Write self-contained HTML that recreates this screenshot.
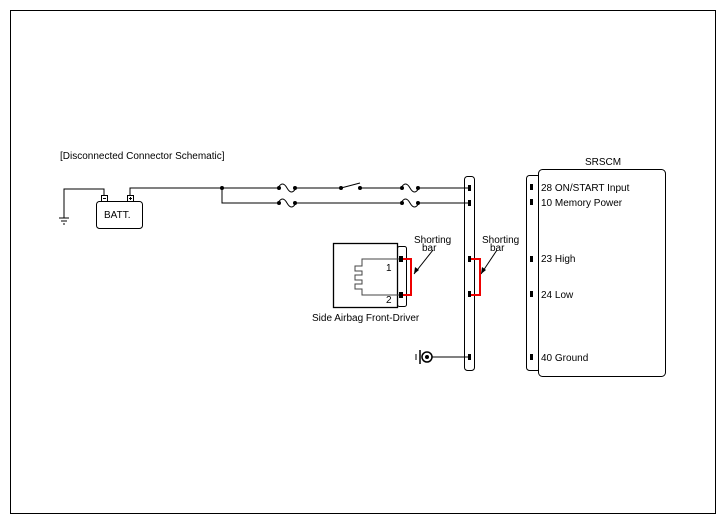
<!DOCTYPE html>
<html><head><meta charset="utf-8"><style>body{margin:0;background:#fff}svg{display:block}text{font-family:"Liberation Sans",sans-serif;font-size:10px;fill:#000}</style></head><body>
<svg width="726" height="525" viewBox="0 0 726 525">
<rect x="10.5" y="10.5" width="705" height="503" fill="none" stroke="#000" stroke-width="1"/>
<text x="60" y="159">[Disconnected Connector Schematic]</text>
<g fill="none" stroke="#000" stroke-width="1">
<!-- ground wire -->
<polyline points="104,195 104,189 64,189 64,218"/>
<line x1="59" y1="218" x2="69" y2="218"/><line x1="61" y1="221" x2="67" y2="221"/><line x1="63" y1="224" x2="65" y2="224"/>
<rect x="96.5" y="201.5" width="46" height="27" rx="3"/>
<rect x="101.5" y="195.5" width="6" height="6"/><rect x="127.5" y="195.5" width="6" height="6"/>
<line x1="103" y1="198.5" x2="106" y2="198.5"/><line x1="129" y1="198.5" x2="132" y2="198.5"/><line x1="130.5" y1="197" x2="130.5" y2="200"/>
<polyline points="130,195 130,188 278,188"/>
<polyline points="222,188 222,203 278,203"/>
<!-- fuses -->
<path d="M278,188 q4.5,-8 9,0 q4.5,8 9,0"/><path d="M278,203 q4.5,-8 9,0 q4.5,8 9,0"/>
<line x1="296" y1="188" x2="341" y2="188"/>
<line x1="341" y1="188" x2="360" y2="183"/>
<line x1="360" y1="188" x2="401" y2="188"/>
<line x1="296" y1="203" x2="401" y2="203"/>
<path d="M401,188 q4.5,-8 9,0 q4.5,8 9,0"/><path d="M401,203 q4.5,-8 9,0 q4.5,8 9,0"/>
<line x1="419" y1="188" x2="468" y2="188"/><line x1="419" y1="203" x2="468" y2="203"/>
<!-- middle connector -->
<rect x="464.5" y="176.5" width="10" height="194" rx="3"/>
<!-- srscm -->
<rect x="526.5" y="175.5" width="14" height="195" rx="3"/>
<rect x="538.5" y="169.5" width="127" height="207" rx="4" fill="#fff"/>
<!-- airbag -->
<rect x="397.5" y="246.5" width="9" height="60" rx="2"/>
<rect x="333.5" y="243.5" width="64" height="64" fill="#fff" stroke-width="1.3"/>
<polyline points="399,259 362,259 362,266 355,266 355,271 362,271 362,275 355,275 355,280 362,280 362,284 355,284 355,289 362,289 362,295 399,295" stroke="#444"/>
<!-- ground -->
<line x1="432" y1="357" x2="468" y2="357"/>
<circle cx="427" cy="357" r="5" stroke-width="1.5"/>
<line x1="420" y1="350" x2="420" y2="364" stroke-width="1.5"/>
<line x1="416" y1="354" x2="416" y2="360"/>
<!-- arrows -->
<line x1="433" y1="250" x2="414" y2="274"/><line x1="497" y1="250" x2="481" y2="274"/>
</g>
<circle cx="427" cy="357" r="2" fill="#000"/>
<g fill="#000">
<circle cx="222" cy="188" r="2"/>
<circle cx="279" cy="188" r="2"/><circle cx="295" cy="188" r="2"/><circle cx="279" cy="203" r="2"/><circle cx="295" cy="203" r="2"/>
<circle cx="341" cy="188" r="2"/><circle cx="360" cy="188" r="2"/>
<circle cx="402" cy="188" r="2"/><circle cx="418" cy="188" r="2"/><circle cx="402" cy="203" r="2"/><circle cx="418" cy="203" r="2"/>
<rect x="468" y="185" width="3" height="6"/><rect x="468" y="200" width="3" height="6"/><rect x="468" y="256" width="3" height="6"/><rect x="468" y="291" width="3" height="6"/><rect x="468" y="354" width="3" height="6"/>
<rect x="530" y="184" width="3" height="6"/><rect x="530" y="199" width="3" height="6"/><rect x="530" y="256" width="3" height="6"/><rect x="530" y="291" width="3" height="6"/><rect x="530" y="354" width="3" height="6"/>
<rect x="399" y="256" width="4" height="6"/><rect x="399" y="292" width="4" height="6"/>
<polygon points="414,274 415,267 419,270"/><polygon points="481,274 482,267 486,270"/>
</g>
<polyline points="403,259 411,259 411,295 403,295" fill="none" stroke="#e00" stroke-width="2"/>
<polyline points="471,259 480,259 480,295 471,295" fill="none" stroke="#e00" stroke-width="2"/>
<text x="104" y="218">BATT.</text>
<text x="386" y="271" font-size="9">1</text><text x="386" y="303" font-size="9">2</text>
<text x="312" y="321">Side Airbag Front-Driver</text>
<text x="414" y="243">Shorting</text><text x="422" y="251">bar</text>
<text x="482" y="243">Shorting</text><text x="490" y="251">bar</text>
<text x="585" y="165">SRSCM</text>
<text x="541" y="191">28 ON/START Input</text>
<text x="541" y="206">10 Memory Power</text>
<text x="541" y="262">23 High</text>
<text x="541" y="298">24 Low</text>
<text x="541" y="361">40 Ground</text>
</svg>
</body></html>
